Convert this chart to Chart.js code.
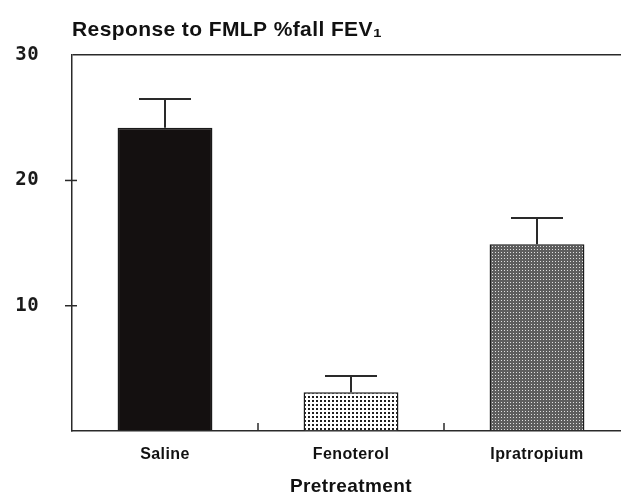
<!DOCTYPE html>
<html>
<head>
<meta charset="utf-8">
<script src="https://cdn.jsdelivr.net/npm/chart.js@4.4.1/dist/chart.umd.min.js"></script>
<style>
  html, body { margin: 0; padding: 0; background: #fff; }
  #wrap { width: 621px; height: 494px; overflow: hidden; }
  canvas { display: block; }
</style>
</head>
<body>
<div id="wrap"><canvas id="chart" width="630" height="500"></canvas></div>
<script>
const categories = ['Saline', 'Fenoterol', 'Ipratropium'];
const fallValues = [24.2, 3.1, 14.9];
const errorTops = [26.5, 4.4, 17.0];
const yTicks = [0, 10, 20, 30];

const ink = '#2a2a2a';
const sans = 'Liberation Sans, Arial, sans-serif';

// little dotted fills like the print screens
const makePattern = (bg, dot, size, dotSize) => {
  const c = document.createElement('canvas');
  c.width = size;
  c.height = size;
  const g = c.getContext('2d');
  g.fillStyle = bg;
  g.fillRect(0, 0, size, size);
  g.fillStyle = dot;
  g.fillRect(0, 0, dotSize, dotSize);
  return g.createPattern(c, 'repeat');
};

const ctx = document.getElementById('chart').getContext('2d');
const fills = [
  '#141010',
  makePattern('#ffffff', '#1e1e1e', 4, 2),
  makePattern('#5e5e5e', '#e0e0e0', 3, 1),
];

// old printer type runs a little wide
const spacing = {
  id: 'spacing',
  beforeLayout(chart) { chart.ctx.letterSpacing = '0.4px'; },
  beforeDraw(chart) { chart.ctx.letterSpacing = '0.4px'; },
};

const errorBars = {
  id: 'errorBars',
  afterDatasetsDraw(chart) {
    const y = chart.scales.y;
    const meta = chart.getDatasetMeta(0);
    const c = chart.ctx;
    c.save();
    c.strokeStyle = ink;
    c.lineWidth = 2;
    meta.data.forEach((bar, i) => {
      const top = y.getPixelForValue(errorTops[i]);
      const base = y.getPixelForValue(fallValues[i]);
      c.beginPath();
      c.moveTo(bar.x, base);
      c.lineTo(bar.x, top);
      c.moveTo(bar.x - 26, top);
      c.lineTo(bar.x + 26, top);
      c.stroke();
    });
    c.restore();
  },
};

const axisTicks = {
  id: 'axisTicks',
  afterDraw(chart) {
    const { x, y } = chart.scales;
    const area = chart.chartArea;
    const c = chart.ctx;
    c.save();
    c.strokeStyle = ink;
    c.lineWidth = 1.5;
    [10, 20].forEach(v => {
      const py = y.getPixelForValue(v);
      c.beginPath();
      c.moveTo(area.left - 7, py);
      c.lineTo(area.left + 5, py);
      c.stroke();
    });
    for (let i = 1; i < categories.length; i++) {
      const px = (x.getPixelForValue(i - 1) + x.getPixelForValue(i)) / 2;
      c.beginPath();
      c.moveTo(px, area.bottom);
      c.lineTo(px, area.bottom - 8);
      c.stroke();
    }
    c.restore();
  },
};

new Chart(ctx, {
  type: 'bar',
  data: {
    labels: categories,
    datasets: [
      {
        data: fallValues,
        backgroundColor: fills,
        borderColor: '#1a1a1a',
        borderWidth: 1.5,
        borderSkipped: 'bottom',
        categoryPercentage: 1,
        barPercentage: 0.51,
      },
    ],
  },
  options: {
    responsive: false,
    animation: false,
    devicePixelRatio: 1,
    layout: { padding: 0 },
    plugins: {
      legend: { display: false },
      tooltip: { enabled: false },
      title: {
        display: true,
        text: 'Response to FMLP %fall FEV\u2081',
        align: 'start',
        fullSize: false,
        color: '#111',
        font: { family: sans, size: 21, weight: 'bold' },
        padding: { top: 18, bottom: 12 },
      },
    },
    scales: {
      x: {
        grid: { display: false, drawTicks: false },
        border: { display: true, color: ink, width: 1.5 },
        ticks: {
          color: '#111',
          padding: 14,
          font: { family: sans, size: 16, weight: 'bold' },
        },
        title: {
          display: true,
          text: 'Pretreatment',
          color: '#111',
          font: { family: sans, size: 19, weight: 'bold' },
          padding: { top: 0, bottom: 2 },
        },
        afterFit: scale => { scale.height = 69; },
      },
      y: {
        min: 0,
        max: 30,
        afterBuildTicks: scale => { scale.ticks = yTicks.map(v => ({ value: v })); },
        grid: {
          drawTicks: false,
          lineWidth: 1.5,
          color: c => (c.tick && c.tick.value === 30 ? ink : 'rgba(0,0,0,0)'),
        },
        border: { display: true, color: ink, width: 1.5 },
        ticks: {
          color: '#1a1a1a',
          padding: 33,
          font: { family: 'DejaVu Sans Mono, monospace', size: 19, weight: 'bold' },
          callback: v => (v === 0 ? '' : String(v)),
        },
        afterFit: scale => { scale.width = 72; },
      },
    },
  },
  plugins: [spacing, errorBars, axisTicks],
});
</script>
</body>
</html>
